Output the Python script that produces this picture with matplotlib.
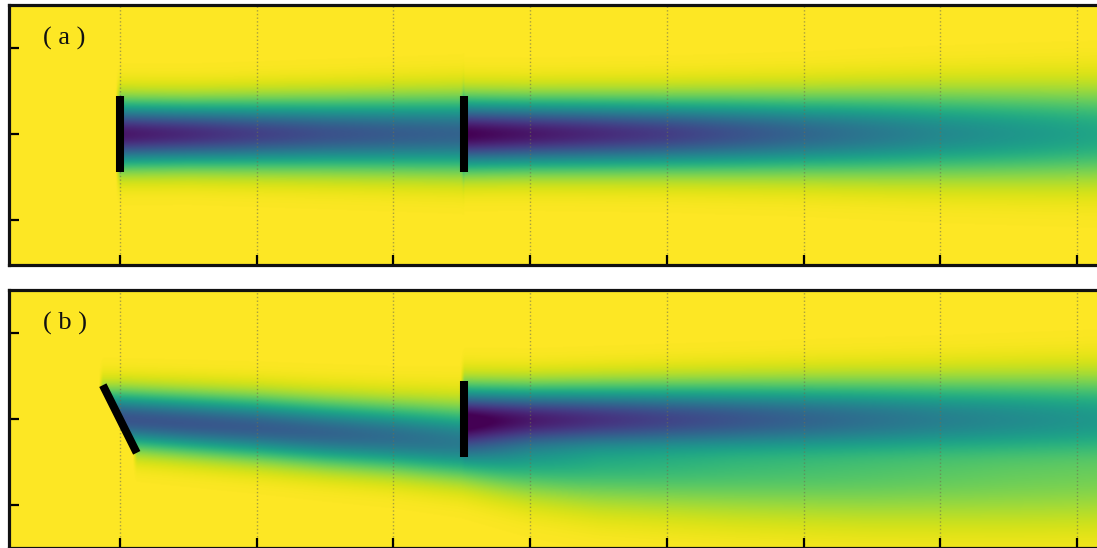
import numpy as np
import matplotlib.pyplot as plt

# axis ticks (no labels in the reference)
x_ticks = [0, 1, 2, 3, 4, 5, 6, 7]
y_ticks = [-1, 0, 1]
x_lim = (-0.81, 7.24)

# turbines: streamwise position, rotor half height, yaw (deg, as seen on the plot)
turbine_x = [0.0, 2.52]
turbine_y = [0.0, 0.0]
rotor_half = 0.44
yaw_a = [0.0, 0.0]
yaw_b = [26.6, 0.0]

# wake stations:
# x position, centreline value (colormap fraction), wake centre y, gaussian width
a_w1_x = [0.0, 0.5, 1.0, 1.5, 2.0, 2.52]
a_w1_val = [0.06, 0.12, 0.19, 0.25, 0.29, 0.32]
a_w1_yc = [0.0, 0.0, 0.0, 0.0, 0.0, 0.0]
a_w1_sig = [0.25, 0.25, 0.26, 0.27, 0.28, 0.29]

a_w2_x = [2.52, 3.0, 4.0, 5.0, 6.0, 7.24]
a_w2_val = [0.0, 0.06, 0.18, 0.33, 0.47, 0.60]
a_w2_yc = [0.0, 0.0, 0.0, 0.0, 0.0, 0.0]
a_w2_sig = [0.27, 0.27, 0.28, 0.30, 0.33, 0.36]

b_w1_x = [0.0, 0.5, 1.0, 1.5, 2.0, 2.5, 3.0, 3.5, 4.5, 5.5, 6.5, 7.24]
b_w1_val = [0.26, 0.27, 0.29, 0.32, 0.36, 0.41, 0.55, 0.63, 0.69, 0.73, 0.77, 0.79]
b_w1_yc = [0.0, -0.05, -0.10, -0.16, -0.21, -0.27, -0.37, -0.45, -0.52, -0.57, -0.60, -0.61]
b_w1_sig = [0.22, 0.23, 0.24, 0.25, 0.26, 0.28, 0.33, 0.36, 0.39, 0.41, 0.42, 0.42]

b_w2_x = [2.52, 3.0, 4.0, 5.0, 6.0, 7.24]
b_w2_val = [0.02, 0.10, 0.22, 0.33, 0.44, 0.55]
b_w2_yc = [0.0, 0.0, 0.0, 0.0, 0.0, 0.0]
b_w2_sig = [0.25, 0.25, 0.27, 0.29, 0.31, 0.34]

W, H, DPI = 1097, 548, 100
fig = plt.figure(figsize=(W / DPI, H / DPI), dpi=DPI)

# axes run a little past the right edge and down to the bottom edge, as in the crop
ax_a = fig.add_axes([9 / W, (H - 265) / H, 1101 / W, 260 / H])
ax_b = fig.add_axes([9 / W, 0.0, 1101 / W, 258 / H])


def wake(xg, yg, xs, val, yc, sig, x0, y0, yaw, ratio):
    d = 1 - np.interp(xg, xs, val)
    c = np.interp(xg, xs, yc)
    s = np.interp(xg, xs, sig)
    # rotor face is tilted when yawed, wake starts behind it
    t = np.radians(yaw)
    yf = np.clip(yg - y0, -rotor_half * np.cos(t), rotor_half * np.cos(t))
    x_face = x0 - yf * np.tan(t) * ratio
    on = np.clip((xg - x_face) / 0.03 + 1, 0, 1) * (xg <= xs[-1])
    return d * np.exp(-0.5 * ((yg - c) / s) ** 2) * on


def draw_panel(ax, ylim, wakes, yaws, label):
    px_x = ax.get_position().width * W / (x_lim[1] - x_lim[0])
    px_y = ax.get_position().height * H / (ylim[1] - ylim[0])
    ratio = px_y / px_x

    xg, yg = np.meshgrid(np.linspace(x_lim[0], x_lim[1], 1400),
                         np.linspace(ylim[0], ylim[1], 500))
    sq = np.zeros_like(xg)
    for (xs, val, yc, sig), x0, y0, yaw in zip(wakes, turbine_x, turbine_y, yaws):
        sq += wake(xg, yg, xs, val, yc, sig, x0, y0, yaw, ratio) ** 2
    field = 1 - np.clip(np.sqrt(sq), 0, 1)

    ax.imshow(field, extent=[x_lim[0], x_lim[1], ylim[0], ylim[1]], origin='lower',
              cmap='viridis', vmin=0, vmax=1, aspect='auto', interpolation='bilinear')

    for x0, y0, yaw in zip(turbine_x, turbine_y, yaws):
        t = np.radians(yaw)
        dx = rotor_half * np.sin(t) * ratio
        dy = rotor_half * np.cos(t)
        ax.plot([x0 - dx, x0 + dx], [y0 + dy, y0 - dy], color='black', lw=5.8,
                solid_capstyle='butt')

    ax.set_xlim(x_lim)
    ax.set_ylim(ylim)
    ax.set_xticks(x_ticks)
    ax.set_yticks(y_ticks)
    ax.tick_params(direction='in', length=7.5, width=1.6, labelbottom=False,
                   labelleft=False, top=False, right=False)
    ax.grid(axis='x', linestyle=':', color='#6f6f50', alpha=0.6, linewidth=1.0)
    for sp in ax.spines.values():
        sp.set_linewidth(2.3)
        sp.set_color('#111111')
    ax.text(0.031, 0.872, label, transform=ax.transAxes, ha='left', va='center',
            fontsize=19, family='Liberation Serif', color='#111111')


draw_panel(ax_a, (-1.52, 1.5),
           [(a_w1_x, a_w1_val, a_w1_yc, a_w1_sig), (a_w2_x, a_w2_val, a_w2_yc, a_w2_sig)],
           yaw_a, '( a )')
draw_panel(ax_b, (-1.5, 1.5),
           [(b_w1_x, b_w1_val, b_w1_yc, b_w1_sig), (b_w2_x, b_w2_val, b_w2_yc, b_w2_sig)],
           yaw_b, '( b )')

fig.savefig('out.png', dpi=DPI)
